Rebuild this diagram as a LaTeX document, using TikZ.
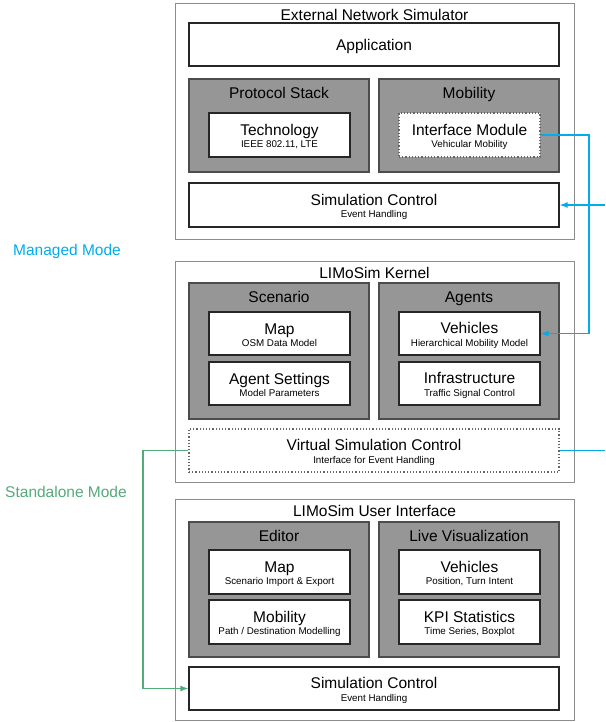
\documentclass[tikz,border=0pt]{standalone}
\usepackage{fontspec}
\setmainfont{Liberation Sans}
\usetikzlibrary{arrows.meta}
\definecolor{managedblue}{RGB}{0,172,236}
\definecolor{standalonegreen}{RGB}{84,170,122}
\definecolor{groupgray}{RGB}{150,150,150}
\newcommand{\mainsize}{\fontsize{15.5}{17}\selectfont}
\newcommand{\subsize}{\fontsize{9.8}{12.2}\selectfont}
% main line + small second line of a module
\newcommand{\modlabel}[2]{{\mainsize\rule{0pt}{15.2pt}#1}\\#2\rule[-2pt]{0pt}{2pt}}

\begin{document}
\begin{tikzpicture}[x=1pt, y=-1pt,
  layer/.style={draw=black!45, line width=0.9pt, fill=white, minimum width=399pt, inner sep=0pt},
  group/.style={draw=black!70, line width=1.2pt, fill=groupgray, minimum width=180pt, inner sep=0pt},
  module/.style={draw=black!85, line width=1.2pt, fill=white, minimum width=141pt, minimum height=44pt, inner sep=0pt, align=center, font=\subsize},
  widemodule/.style={module, minimum width=370pt},
  virtual/.style={dotted, draw=black!60},
  layertitle/.style={font=\mainsize, inner sep=0pt, anchor=base, yshift=-18pt},
  grouptitle/.style={font=\mainsize, inner sep=0pt, anchor=base, yshift=-20pt},
  managed/.style={draw=managedblue, line width=1.2pt},
  standalone/.style={draw=standalonegreen, line width=1.2pt},
  tip/.style={-{Latex[length=8pt,width=6pt]}}
]
\useasboundingbox (0,0) rectangle (605,722);

% External network simulator
\node[layer, minimum height=236pt] (ens) at (374.5,121) {};
\node[layertitle] (enstitle) at (ens.north) {External Network Simulator};
\node[widemodule, minimum height=43pt] (app) at (374,44.5) {{\mainsize\rule{0pt}{15.2pt}Application}};
\node[group, minimum height=93pt] (stack) at (279,125.5) {};
\node[grouptitle] (stacktitle) at (stack.north) {Protocol Stack};
\node[group, minimum height=93pt] (mob) at (469,125.5) {};
\node[grouptitle] (mobtitle) at (mob.north) {Mobility};
\node[module] (tech) at (279.5,135) {\modlabel{Technology}{IEEE 802.11, LTE}};
\node[module, virtual] (iface) at (469.5,135) {\modlabel{Interface Module}{Vehicular Mobility}};
\node[widemodule] (simctl) at (374,205) {\modlabel{Simulation Control}{Event Handling}};

% LIMoSim kernel
\node[layer, minimum height=221pt] (kernel) at (374.5,371.5) {};
\node[layertitle] (kerneltitle) at (kernel.north) {LIMoSim Kernel};
\node[group, minimum height=136pt] (scen) at (279,351) {};
\node[grouptitle] (scentitle) at (scen.north) {Scenario};
\node[group, minimum height=136pt] (agents) at (469,351) {};
\node[grouptitle] (agentstitle) at (agents.north) {Agents};
\node[module, minimum height=43pt] (map) at (279.5,333.5) {\modlabel{Map}{OSM Data Model}};
\node[module, minimum height=43pt] (aset) at (279.5,383.5) {\modlabel{Agent Settings}{Model Parameters}};
\node[module, minimum height=43pt] (veh) at (469.5,333.5) {\modlabel{Vehicles}{Hierarchical Mobility Model}};
\node[module, minimum height=43pt] (infra) at (469.5,383.5) {\modlabel{Infrastructure}{Traffic Signal Control}};
\node[widemodule, virtual, minimum height=43pt] (vsc) at (374,450.5) {\modlabel{Virtual Simulation Control}{Interface for Event Handling}};

% LIMoSim user interface
\node[layer, minimum height=221pt] (ui) at (374.5,609.5) {};
\node[layertitle] (uititle) at (ui.north) {LIMoSim User Interface};
\node[group, minimum height=135pt] (editor) at (279,589.5) {};
\node[grouptitle] (editortitle) at (editor.north) {Editor};
\node[group, minimum height=135pt] (livevis) at (469,589.5) {};
\node[grouptitle] (livevistitle) at (livevis.north) {Live Visualization};
\node[module] (uimap) at (279.5,572) {\modlabel{Map}{Scenario Import \& Export}};
\node[module] (uimob) at (279.5,622) {\modlabel{Mobility}{Path / Destination Modelling}};
\node[module] (uiveh) at (469.5,572) {\modlabel{Vehicles}{Position, Turn Intent}};
\node[module] (kpi) at (469.5,622) {\modlabel{KPI Statistics}{Time Series, Boxplot}};
\node[widemodule, minimum height=43pt] (uisim) at (374,688.5) {\modlabel{Simulation Control}{Event Handling}};

% Modes
\node[text=managedblue, font=\mainsize] (managedlbl) at (67,251.5) {Managed Mode};
\node[text=standalonegreen, font=\mainsize] (standalonelbl) at (66,492) {Standalone Mode};

\coordinate (mgbend) at (589,135);
\coordinate (mgin) at (605,205);
\coordinate (mgout) at (605,450.5);
\coordinate (sabend) at (143,450.5);

\draw[managed, tip] (iface.east) -- (mgbend) |- (veh.east);
\draw[managed, tip] (mgin) -- (simctl.east);
\draw[managed] (vsc.east) -- (mgout);
\draw[standalone, tip] (vsc.west) -- (sabend) |- (uisim.west);
\end{tikzpicture}
\end{document}
